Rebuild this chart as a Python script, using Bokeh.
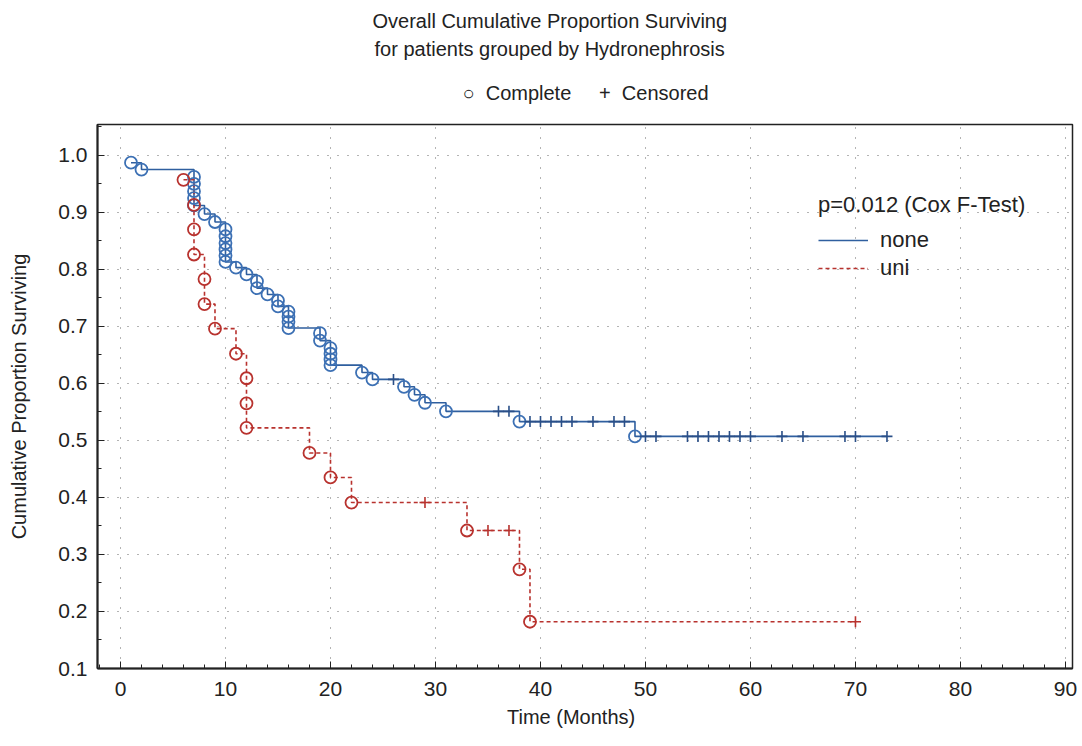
from bokeh.plotting import figure
from bokeh.models import Legend, LegendItem, Range1d, FixedTicker, NumeralTickFormatter, Title
from bokeh.embed import file_html
from bokeh.resources import INLINE

# group "none": complete (death) times and cumulative proportion surviving
none_t = [1, 2, 7, 7, 7, 7, 7, 8, 9, 10, 10, 10, 10, 10, 10, 11, 12, 13, 13, 14,
          15, 15, 16, 16, 16, 16, 19, 19, 20, 20, 20, 20, 23, 24, 27, 28, 29, 31, 38, 49]
none_s = [0.987, 0.975, 0.962, 0.950, 0.937, 0.925, 0.912, 0.897, 0.883, 0.870,
          0.858, 0.846, 0.835, 0.824, 0.813, 0.803, 0.791, 0.779, 0.767, 0.756,
          0.745, 0.735, 0.726, 0.717, 0.708, 0.697, 0.688, 0.675, 0.662, 0.652,
          0.642, 0.632, 0.619, 0.607, 0.594, 0.580, 0.566, 0.551, 0.533, 0.507]
# group "none": censored
none_ct = [26, 36, 37, 39, 40, 41, 42, 43, 45, 47, 48, 50, 51, 54, 55, 56, 57, 58,
           59, 60, 63, 65, 69, 70, 73]
none_cs = [0.607, 0.551, 0.551] + [0.533] * 8 + [0.507] * 14

# group "uni"
uni_t = [6, 7, 7, 7, 8, 8, 9, 11, 12, 12, 12, 18, 20, 22, 33, 38, 39]
uni_s = [0.957, 0.913, 0.870, 0.826, 0.783, 0.739, 0.696, 0.652, 0.609, 0.565,
         0.522, 0.478, 0.435, 0.391, 0.342, 0.274, 0.182]
uni_ct = [29, 35, 37, 70]
uni_cs = [0.391, 0.342, 0.342, 0.182]

x_ticks = [0, 10, 20, 30, 40, 50, 60, 70, 80, 90]
y_ticks = [0.1, 0.2, 0.3, 0.4, 0.5, 0.6, 0.7, 0.8, 0.9, 1.0]

FONT = "Liberation Sans"
INK = "#222222"
BLUE_LINE = "#2f5f9f"
BLUE_PT = "#3c70b4"
BLUE_CENS = "#2a4f88"
RED = "#b8322e"
NB = "\u00a0"


def steps(t, s, ct, cs):
    pts = sorted(list(zip(t, s)) + list(zip(ct, cs)), key=lambda a: (a[0], -a[1]))
    return [a[0] for a in pts], [a[1] for a in pts]


p = figure(width=1078, height=742, x_range=Range1d(-2.19, 90.67), y_range=Range1d(0.1, 1.054),
           title=None, output_backend="svg", toolbar_location=None,
           min_border_left=97, min_border_right=6, min_border_top=124, min_border_bottom=74)

nx, ny = steps(none_t, none_s, none_ct, none_cs)
ux, uy = steps(uni_t, uni_s, uni_ct, uni_cs)
none_line = p.step(nx, ny, mode="after", line_color=BLUE_LINE, line_width=1.6)
uni_line = p.step(ux, uy, mode="after", line_color=RED, line_width=1.6, line_dash="4 3")

p.scatter(none_t, none_s, marker="circle", size=12, fill_alpha=0,
          line_color=BLUE_PT, line_width=1.8)
p.scatter(none_ct, none_cs, marker="cross", size=11, line_color=BLUE_CENS, line_width=1.6)
p.scatter(uni_t, uni_s, marker="circle", size=12, fill_alpha=0,
          line_color=RED, line_width=1.8)
p.scatter(uni_ct, uni_cs, marker="cross", size=11, line_color=RED, line_width=1.6)

# axes
p.xaxis.ticker = FixedTicker(ticks=x_ticks, minor_ticks=list(range(-2, 91, 2)))
p.yaxis.ticker = FixedTicker(ticks=y_ticks, minor_ticks=[v / 100 for v in range(10, 106, 5)])
p.yaxis.formatter = NumeralTickFormatter(format="0.0")
p.xaxis.axis_label = "Time (Months)" + NB * 5
p.yaxis.axis_label = "Cumulative Proportion Surviving"
for ax in (p.xaxis, p.yaxis):
    ax.axis_line_width = 2
    ax.axis_line_color = INK
    ax.major_tick_in = 7
    ax.major_tick_out = 0
    ax.minor_tick_in = 4
    ax.minor_tick_out = 0
    ax.major_tick_line_color = INK
    ax.minor_tick_line_color = INK
    ax.major_label_text_font = FONT
    ax.major_label_text_font_size = "21px"
    ax.major_label_text_color = INK
    ax.axis_label_text_font = FONT
    ax.axis_label_text_font_size = "20px"
    ax.axis_label_text_font_style = "normal"
    ax.axis_label_text_color = INK
p.xaxis.major_label_standoff = 13
p.xaxis.axis_label_standoff = 7
p.yaxis.major_label_standoff = 10
p.yaxis.axis_label_standoff = 25

p.outline_line_color = INK
p.outline_line_width = 1.5
for g in (p.xgrid, p.ygrid):
    g.grid_line_dash = "1 9"
    g.grid_line_color = "#444444"
    g.grid_line_alpha = 0.8

# legend inside the plot
legend = Legend(items=[LegendItem(label="none", renderers=[none_line]),
                       LegendItem(label="uni", renderers=[uni_line])],
                title="p=0.012 (Cox F-Test)", location=(721, 387),
                padding=0, margin=0, spacing=2, glyph_width=50, glyph_height=20,
                label_height=22, label_standoff=12, title_standoff=9,
                border_line_color=None, background_fill_alpha=0,
                label_text_font=FONT, label_text_font_size="22px", label_text_color=INK,
                title_text_font=FONT, title_text_font_size="22px",
                title_text_font_style="normal", title_text_color=INK)
p.add_layout(legend)


def header(text, offset, standoff):
    # titles are stacked outward from the frame in the order they are added
    p.add_layout(Title(text=text, align="left", offset=offset, standoff=standoff,
                       vertical_align="top", text_font=FONT, text_font_size="20px",
                       text_font_style="normal", text_color=INK), "above")


header(f"○{NB}{NB}Complete{NB}{NB}{NB}{NB}{NB}+{NB}{NB}Censored", 365, 37)
header("for patients grouped by Hydronephrosis", 277, 4)
header("Overall Cumulative Proportion Surviving", 275, 4)

open("out.html", "w").write(file_html(p, INLINE))
